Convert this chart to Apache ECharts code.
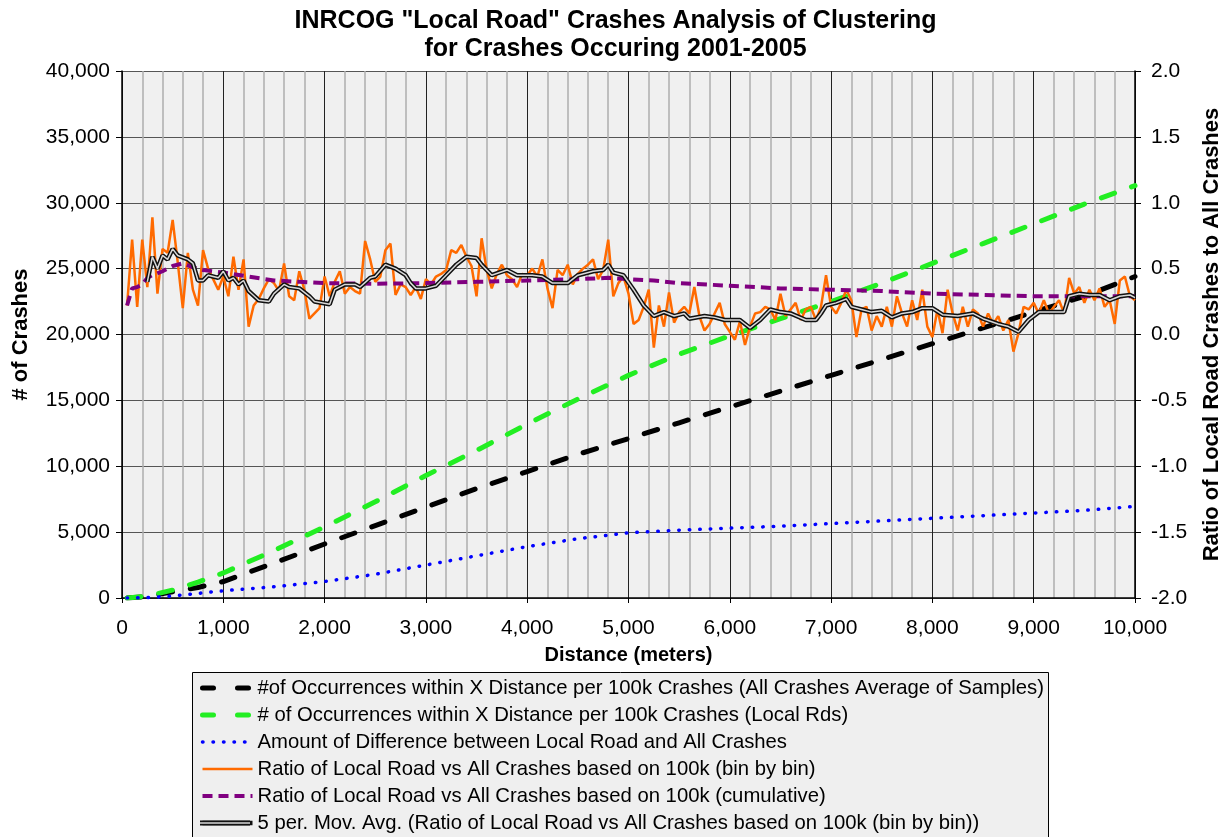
<!DOCTYPE html>
<html>
<head>
<meta charset="utf-8">
<script src="https://cdn.jsdelivr.net/npm/echarts@6/dist/echarts.min.js"></script>
<style>html,body{margin:0;padding:0;background:#fff}#c{width:1231px;height:837px}</style>
</head>
<body>
<div id="c"></div>
<script>
// ---- data ----
const curveX = [50,250,500,750,1000,1500,2000,2500,3000,3500,4000,4500,5000,5500,6000,6500,7000,7500,8000,8500,9000,9500,10000];
const allCrashesAvg = [0,100,480,800,1250,2650,4100,5500,6900,8300,9600,10900,12100,13300,14500,15700,16900,18100,19300,20500,21700,22900,24400];
const localRds = [0,150,600,1200,1900,3600,5400,7300,9300,11200,13200,15100,16900,18500,19900,21200,22500,23900,25400,26900,28400,29900,31300];
const difference = [0,30,150,350,550,850,1250,1800,2500,3200,3900,4500,4950,5150,5300,5450,5650,5850,6050,6250,6450,6650,6950];

const cumX = [50,100,150,200,250,300,400,500,600,700,800,1000,1250,1500,1750,2000,2500,3000,3500,4000,4500,4800,5000,5250,5500,6000,6500,7000,7500,8000,8500,9000,9500,10000];
const cumRatio = [0.22,0.35,0.36,0.38,0.43,0.45,0.48,0.52,0.54,0.51,0.49,0.47,0.44,0.41,0.40,0.39,0.385,0.39,0.40,0.41,0.42,0.43,0.42,0.41,0.39,0.37,0.35,0.34,0.33,0.31,0.30,0.29,0.29,0.29];

// bin-by-bin ratio, bins every 50 m from 50 to 10000
const binRatio = [
0.22,0.72,0.21,0.72,0.36,0.89,0.31,0.65,0.62,0.87,0.55,0.20,0.62,0.34,0.22,0.64,0.50,0.42,0.34,0.44,
0.29,0.59,0.34,0.57,0.06,0.22,0.27,0.35,0.42,0.39,0.33,0.54,0.29,0.26,0.48,0.34,0.12,0.16,0.20,0.44,
0.29,0.40,0.48,0.31,0.36,0.33,0.31,0.71,0.57,0.40,0.44,0.64,0.69,0.30,0.38,0.36,0.30,0.36,0.27,0.42,
0.38,0.44,0.46,0.49,0.64,0.62,0.68,0.59,0.52,0.29,0.73,0.49,0.35,0.46,0.53,0.45,0.42,0.36,0.46,0.45,
0.50,0.44,0.57,0.35,0.20,0.49,0.45,0.53,0.38,0.46,0.50,0.53,0.57,0.42,0.49,0.72,0.29,0.39,0.44,0.31,
0.08,0.11,0.21,0.34,-0.10,0.22,0.06,0.32,0.09,0.17,0.21,0.16,0.36,0.14,0.03,0.08,0.16,0.24,0.08,0.02,
-0.04,0.10,-0.08,0.06,0.16,0.17,0.21,0.19,0.11,0.31,0.14,0.19,0.24,0.11,0.19,0.21,0.11,0.21,0.45,0.21,
0.16,0.24,0.34,0.26,-0.02,0.19,0.21,0.03,0.14,0.06,0.21,0.06,0.29,0.16,0.06,0.26,0.11,0.34,0.06,-0.02,
0.19,0.01,0.34,0.16,0.03,0.21,0.06,0.19,0.16,0.06,0.16,0.08,0.14,0.03,0.11,-0.13,0.01,0.21,0.19,0.24,
0.16,0.26,0.16,0.21,0.26,0.16,0.43,0.31,0.36,0.24,0.34,0.26,0.35,0.21,0.26,0.08,0.41,0.44,0.29,0.26
];
const binX = binRatio.map((_, i) => (i + 1) * 50);

const maX = [250,300,350,400,450,500,550,650,700,750,800,850,950,1000,1050,1100,1150,1200,1250,1350,1450,1500,1600,1650,1750,1850,1900,2050,2100,2200,2300,2350,2450,2500,2600,2700,2800,2850,2900,3000,3100,3200,3300,3400,3500,3550,3650,3800,3900,4050,4150,4250,4400,4500,4650,4750,4800,4850,4950,5050,5150,5250,5350,5450,5550,5600,5750,5850,5950,6100,6200,6300,6400,6500,6600,6750,6850,6900,6950,7050,7150,7200,7300,7400,7500,7600,7700,7800,7900,8000,8100,8250,8400,8500,8650,8750,8850,8950,9050,9200,9300,9350,9450,9550,9650,9750,9850,9950,10000];
const maRatio = [0.40,0.59,0.50,0.60,0.57,0.65,0.60,0.57,0.54,0.41,0.41,0.45,0.43,0.48,0.41,0.43,0.38,0.41,0.33,0.26,0.25,0.31,0.38,0.36,0.35,0.29,0.25,0.23,0.34,0.38,0.38,0.36,0.43,0.44,0.53,0.50,0.45,0.39,0.35,0.35,0.37,0.45,0.53,0.59,0.58,0.53,0.45,0.49,0.45,0.45,0.44,0.39,0.39,0.45,0.48,0.49,0.53,0.47,0.45,0.34,0.22,0.14,0.17,0.14,0.16,0.12,0.14,0.13,0.11,0.11,0.05,0.11,0.19,0.17,0.16,0.11,0.11,0.16,0.22,0.24,0.27,0.21,0.19,0.17,0.18,0.13,0.16,0.17,0.20,0.20,0.15,0.14,0.16,0.12,0.08,0.06,0.02,0.11,0.17,0.17,0.17,0.29,0.31,0.30,0.30,0.26,0.29,0.30,0.28];

const names = [
  '#of Occurrences within X Distance per 100k Crashes (All Crashes Average of Samples)',
  '# of Occurrences within X Distance per 100k Crashes (Local Rds)',
  'Amount of Difference between Local Road and All Crashes',
  'Ratio of Local Road vs All Crashes based on 100k (bin by bin)',
  'Ratio of Local Road vs All Crashes based on 100k (cumulative)',
  '5 per. Mov. Avg. (Ratio of Local Road vs All Crashes based on 100k (bin by bin))'
];

const zip = (xs, ys) => xs.map((x, i) => [x, ys[i]]);
const FONT = '"Liberation Sans", Arial, sans-serif';
const comma = v => String(v).replace(/\B(?=(\d{3})+(?!\d))/g, ',');

const styles = [
  {color: '#000', width: 5, type: [14, 18], cap: 'round'},
  {color: '#22ee22', width: 5, type: [14, 18], cap: 'round'},
  {color: '#0000ff', width: 3.5, type: [0.5, 10], cap: 'round'},
  {color: '#ff6a00', width: 2.5, type: 'solid'},
  {color: '#800080', width: 4, type: [10, 6]},
  {color: '#111', width: 4.5, type: 'solid'}
];
const legendStyles = styles.map((s, i) =>
  i < 2 ? Object.assign({}, s, {type: [11, 24]}) : Object.assign({}, s));

const LEG_TOP = 672, LEG_ROW = 27;
const MA_ICON_Y = LEG_TOP + 16 + 5 * LEG_ROW;
const chart = echarts.init(document.getElementById('c'), null, {renderer: 'canvas'});
chart.setOption({
  animation: false,
  backgroundColor: '#ffffff',
  textStyle: {fontFamily: FONT, color: '#000'},
  title: {
    text: 'INRCOG "Local Road" Crashes Analysis of Clustering\nfor Crashes Occuring 2001-2005',
    left: 'center', top: 2,
    textStyle: {fontSize: 25, fontWeight: 'bold', lineHeight: 28, color: '#000', fontFamily: FONT}
  },
  grid: {left: 122, right: 94, top: 71, bottom: 239, show: true, backgroundColor: '#f0f0f0', borderWidth: 0},
  graphic: [
    {type: 'rect', z: 0, silent: true,
     shape: {x: 192.5, y: LEG_TOP + 0.5, width: 856, height: 200},
     style: {fill: '#efefef', stroke: '#000', lineWidth: 1}},
    // double-line legend icon of the moving average (outer dark + inner light stroke)
    {type: 'line', z: 9, silent: true,
     shape: {x1: 200, y1: MA_ICON_Y, x2: 250, y2: MA_ICON_Y},
     style: {stroke: '#111', lineWidth: 5}},
    {type: 'line', z: 10, silent: true,
     shape: {x1: 200, y1: MA_ICON_Y, x2: 250, y2: MA_ICON_Y},
     style: {stroke: '#d8d8d8', lineWidth: 1.5}}
  ],
  legend: {
    orient: 'vertical', left: 192, top: LEG_TOP,
    padding: [5, 5, 0, 8],
    itemWidth: 50, itemHeight: 14, itemGap: 5,
    itemStyle: {opacity: 0},
    textStyle: {fontSize: 20.3, color: '#000', lineHeight: 22, fontFamily: FONT},
    data: names.map((n, i) => ({name: n, lineStyle: legendStyles[i]}))
  },
  xAxis: {
    type: 'value', min: 0, max: 10000, interval: 1000,
    name: 'Distance (meters)', nameLocation: 'middle', nameGap: 47,
    nameTextStyle: {fontWeight: 'bold', fontSize: 20, color: '#000', fontFamily: FONT},
    axisLine: {show: true, onZero: false, lineStyle: {color: '#000', width: 1.5}},
    axisTick: {show: true, length: 5, lineStyle: {color: '#000'}},
    axisLabel: {formatter: comma, fontSize: 21, color: '#000', margin: 20},
    splitLine: {show: true, lineStyle: {color: '#222', width: 1}},
    minorTick: {show: false, splitNumber: 5},
    minorSplitLine: {show: true, lineStyle: {color: '#adadad', width: 1.5}}
  },
  yAxis: [{
    type: 'value', min: 0, max: 40000, interval: 5000, position: 'left',
    name: '# of Crashes', nameLocation: 'middle', nameGap: 90,
    nameTextStyle: {fontWeight: 'bold', fontSize: 22, color: '#000', fontFamily: FONT},
    axisLine: {show: true, lineStyle: {color: '#000', width: 1.5}},
    axisTick: {show: true, length: 6, lineStyle: {color: '#000'}},
    axisLabel: {formatter: comma, fontSize: 21, color: '#000', margin: 12},
    splitLine: {show: true, lineStyle: {color: '#555', width: 1}}
  }, {
    type: 'value', min: -2, max: 2, interval: 0.5, position: 'right',
    name: 'Ratio of Local Road Crashes to All Crashes', nameLocation: 'middle', nameGap: 66,
    nameTextStyle: {fontWeight: 'bold', fontSize: 22, color: '#000', fontFamily: FONT},
    axisLine: {show: true, lineStyle: {color: '#000', width: 1.5}},
    axisTick: {show: true, length: 6, lineStyle: {color: '#000'}},
    axisLabel: {formatter: v => v.toFixed(1), fontSize: 21, color: '#000', margin: 16},
    splitLine: {show: false}
  }],
  series: [
    {name: names[0], type: 'line', yAxisIndex: 0, showSymbol: false, symbol: 'none',
     data: zip(curveX, allCrashesAvg), itemStyle: {color: '#000'}, lineStyle: styles[0]},
    {name: names[1], type: 'line', yAxisIndex: 0, showSymbol: false, symbol: 'none',
     data: zip(curveX, localRds), itemStyle: {color: '#22ee22'}, lineStyle: styles[1]},
    {name: names[2], type: 'line', yAxisIndex: 0, showSymbol: false, symbol: 'none',
     data: zip(curveX, difference), itemStyle: {color: '#0000ff'}, lineStyle: styles[2]},
    {name: names[3], type: 'line', yAxisIndex: 1, showSymbol: false, symbol: 'none',
     data: zip(binX, binRatio), itemStyle: {color: '#ff6a00'}, lineStyle: styles[3]},
    {name: names[4], type: 'line', yAxisIndex: 1, showSymbol: false, symbol: 'none',
     data: zip(cumX, cumRatio), itemStyle: {color: '#800080'}, lineStyle: styles[4]},
    {name: names[5], type: 'line', yAxisIndex: 1, showSymbol: false, symbol: 'none',
     data: zip(maX, maRatio), itemStyle: {color: '#111'}, lineStyle: styles[5]},
    {name: 'maInner', type: 'line', yAxisIndex: 1, showSymbol: false, symbol: 'none', silent: true,
     data: zip(maX, maRatio), itemStyle: {color: '#d8d8d8'},
     lineStyle: {color: '#d8d8d8', width: 1.5}}
  ]
});
</script>
</body>
</html>
